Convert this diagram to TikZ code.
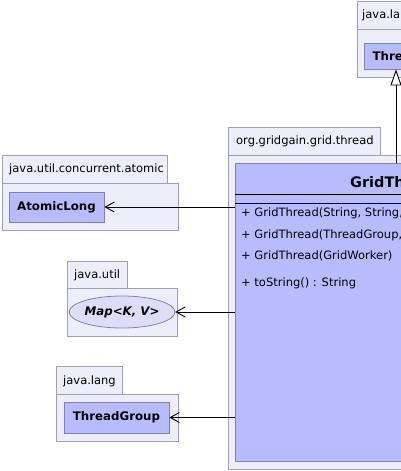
\documentclass[tikz,border=0pt]{standalone}
\usepackage{fontspec}
\setmainfont{DejaVu Sans}
\usepackage{tikz}
\usetikzlibrary{arrows.meta, shapes.geometric}
\definecolor{pkgfill}{RGB}{238,238,251}
\definecolor{pkgdraw}{RGB}{160,160,176}
\definecolor{clsfill}{RGB}{185,187,255}
\definecolor{clsdraw}{RGB}{128,128,180}
\definecolor{ifcfill}{RGB}{221,221,250}

\begin{document}
\begin{tikzpicture}[x=1pt, y=-1pt,
    font=\fontsize{11.5}{13}\selectfont,
    pkg/.style={fill=pkgfill, draw=pkgdraw, line width=0.8pt},
    pkglabel/.style={anchor=west, inner sep=0pt},
    cls/.style={fill=clsfill, draw=clsdraw, line width=0.8pt, inner sep=0pt, font=\bfseries\fontsize{11.8}{13}\selectfont},
    ifc/.style={ellipse, fill=ifcfill, draw=clsdraw, line width=0.8pt, inner sep=0pt, font=\bfseries\itshape\fontsize{11.8}{13}\selectfont},
    member/.style={anchor=west, inner sep=0pt},
    dep/.style={line width=0.9pt, -{Straight Barb[length=9pt, width=10pt]}},
    inherit/.style={line width=0.9pt, -{Triangle[open, fill=white, length=16pt, width=11pt]}}]
    \useasboundingbox (0,0) rectangle (401,471);
    \clip (0,0) rectangle (401,471);

    % java.lang (top)
    \filldraw[pkg] (357,1) rectangle (430,29);
    \filldraw[pkg] (357,29) rectangle (450,77);
    \node[pkglabel] (langtop) at (362,15) {java.lang};
    \node[cls, minimum width=64, minimum height=26] (thread) at (396,56) {Thread};

    % org.gridgain.grid.thread
    \filldraw[pkg] (228,127) rectangle (380,155);
    \filldraw[pkg] (228,155) rectangle (600,469);
    \node[pkglabel] (gridpkg) at (236,141) {org.gridgain.grid.thread};
    \node[cls, anchor=north west, minimum width=318, minimum height=298] (grid) at (235,163) {};
    \node[font=\bfseries\fontsize{14.5}{16}\selectfont] (gridtitle) at (396,182) {GridThread};
    \draw[line width=0.8pt] ([yshift=-31pt]grid.north west) -- ([yshift=-31pt]grid.north east);
    \draw[line width=0.8pt] ([yshift=-40pt]grid.north west) -- ([yshift=-40pt]grid.north east);
    \node[member] (ctor1) at (241,213) {+ GridThread(String, String, Runnable)};
    \node[member] (ctor2) at (241,235) {+ GridThread(ThreadGroup, String, String, Runnable)};
    \node[member] (ctor3) at (241,256) {+ GridThread(GridWorker)};
    \node[member] (tostr) at (241,283) {+ toString() : String};

    % java.util.concurrent.atomic
    \filldraw[pkg] (2,155) rectangle (167,183);
    \filldraw[pkg] (2,183) rectangle (178,230);
    \node[pkglabel] (atomicpkg) at (9,169) {java.util.concurrent.atomic};
    \node[cls, minimum width=95, minimum height=30] (atomic) at (56.5,207) {AtomicLong};

    % java.util
    \filldraw[pkg] (67,261) rectangle (127,288);
    \filldraw[pkg] (67,288) rectangle (177,336);
    \node[pkglabel] (utilpkg) at (74,275) {java.util};
    \node[ifc, minimum width=94, minimum height=32] (map) at (122,312) {Map<K, V>};

    % java.lang
    \filldraw[pkg] (56,366) rectangle (122,394);
    \filldraw[pkg] (56,394) rectangle (178,441);
    \node[pkglabel] (langpkg) at (63,381) {java.lang};
    \node[cls, minimum width=105, minimum height=31] (tgroup) at (116.5,417.5) {ThreadGroup};

    \draw[inherit] (grid.north -| thread) -- (thread.south);
    \draw[dep] (grid.west |- atomic) -- (atomic.east);
    \draw[dep] (grid.west |- map) -- (map.east);
    \draw[dep] (grid.west |- tgroup) -- (tgroup.east);
\end{tikzpicture}
\end{document}
